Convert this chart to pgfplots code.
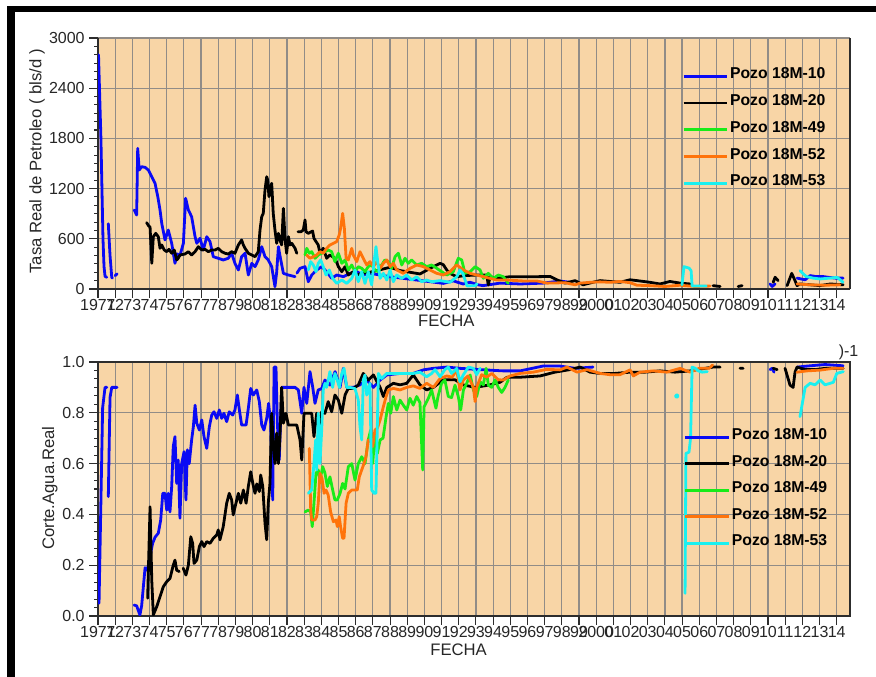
\documentclass[border=0pt]{standalone}
\usepackage{fontspec}
\setmainfont{Liberation Sans}
\usepackage{pgfplots}
\pgfplotsset{compat=1.18}
\definecolor{bg}{RGB}{248,213,166}
\definecolor{gridc}{RGB}{145,140,135}
\definecolor{axc}{RGB}{45,45,45}
\definecolor{c10}{RGB}{10,10,245}
\definecolor{c20}{RGB}{0,0,0}
\definecolor{c49}{RGB}{25,235,25}
\definecolor{c52}{RGB}{255,115,10}
\definecolor{c53}{RGB}{25,240,240}
\pgfplotsset{
 mystyle/.style={
  scale only axis, width=564pt,
  xmin=1971, xmax=2014.77,
  axis background/.style={fill=bg},
  grid=major, major grid style={draw=gridc, line width=0.9pt},
  xtick pos=bottom, ytick pos=left,
  tick align=outside,
  major tick length=6.5pt, minor tick length=3pt,
  every tick/.style={axc, line width=0.8pt},
  axis line style={axc, line width=1.4pt},
  xtick={1971,...,2014},
  xticklabels={1971,72,73,74,75,76,77,78,79,80,81,82,83,84,85,86,87,88,89,90,91,92,93,94,95,96,97,98,99,2000,01,02,03,04,05,06,07,08,09,10,11,12,13,14},
  minor x tick num=1,
  minor y tick num=5,
  tick label style={font=\fontsize{12}{14}\selectfont, text=black!85},
  /pgf/number format/assume math mode=true,
  /pgf/number format/1000 sep={},
  xticklabel style={inner ysep=1pt},
  unbounded coords=jump,
  every axis plot/.append style={line width=2.1pt, line join=round, line cap=round},
  legend image code/.code={\draw[#1, line width=2.1pt, line cap=butt] (0pt,-1.5pt) -- (32.6pt,-1.5pt);},
  legend cell align=left,
  label style={font=\fontsize{12.5}{15}\selectfont, text=black!85},
  xlabel={FECHA},
 }
}
\begin{document}
\begin{tikzpicture}
\useasboundingbox (0pt,0pt) rectangle (657pt,507.75pt);
% ---------------- top panel ----------------
\begin{axis}[mystyle,
  at={(73.5pt,291pt)}, anchor=south west, height=188.25pt,
  axis x line*=bottom, axis y line*=box,
  ymin=0, ymax=3000, ytick={0,600,...,3000},
  ylabel={Tasa Real de Petroleo ( bls/d )},
  ylabel style={at={(rel axis cs:-0.0811,0.508)}, anchor=center},
  xlabel style={at={(rel axis cs:0.4632,-0.1275)}, anchor=center},
  legend style={at={(rel axis cs:0.7766,0.896)}, anchor=north west, draw=none, fill=none,
    font=\fontsize{11.8}{14}\selectfont\bfseries, row sep=5.2pt, inner sep=0pt,
    nodes={inner sep=1.2pt, text height=9.5pt, text depth=3pt}},
]
\addplot[c10] coordinates {
(1971.03,2800) (1971.17,1800) (1971.29,600) (1971.35,270) (1971.41,150) (1971.51,140) (1971.55,nan)
(1971.60,780) (1971.70,400) (1971.80,140) (1971.84,130) (1971.92,nan)
(1972.00,160) (1972.11,180) (1972.5,nan)
(1973.11,944) (1973.25,884) (1973.31,1681) (1973.40,1422) (1973.54,1462) (1973.74,1454) (1973.93,1422) (1974.13,1342) (1974.32,1263) (1974.48,1103) (1974.61,944) (1974.71,785) (1974.90,586) (1975.09,705) (1975.29,546) (1975.48,307) (1975.60,420) (1975.77,400) (1975.97,546) (1976.10,1084) (1976.26,944) (1976.45,864) (1976.65,625) (1976.75,546) (1976.94,606) (1977.13,466) (1977.33,625) (1977.52,566) (1977.71,386) (1978.00,367) (1978.29,347) (1978.58,367) (1978.78,427) (1978.97,307) (1979.17,227) (1979.36,386) (1979.56,427) (1979.75,167) (1979.95,307) (1980.14,267) (1980.33,347) (1980.53,506) (1980.72,386) (1980.91,347) (1981.11,267) (1981.30,27) (1981.40,200) (1981.50,506) (1981.59,400) (1981.79,187) (1982.08,167) (1982.47,147) (1982.53,nan)
(1982.58,190) (1982.76,247) (1983.05,267) (1983.24,87) (1983.44,167) (1983.73,227) (1984.02,267) (1984.31,207) (1984.60,127) (1984.89,167) (1985.28,147) (1985.67,187) (1986.06,207) (1986.44,167) (1986.83,187) (1987.42,167) (1988.00,147) (1988.77,127) (1989.55,107) (1990.33,87) (1991.10,67) (1991.68,97) (1992.25,60) (1992.66,80) (1993.12,50) (1993.41,40) (1994.40,70) (1995.57,60) (1996.90,70) (1997.89,95) (1998.47,80) (1999,nan)
(2010.12,60) (2010.24,30) (2010.41,60) (2011,nan)
(2011.69,130) (2012.16,110) (2012.45,160) (2012.74,150) (2013.15,150) (2013.50,140) (2013.91,130) (2014.37,130)
};
\addplot[c20] coordinates {
(1973.83,793) (1973.93,760) (1974.03,740) (1974.13,307) (1974.22,625) (1974.36,665) (1974.51,625) (1974.61,486) (1974.71,526) (1974.86,466) (1975.00,446) (1975.13,474) (1975.29,427) (1975.44,466) (1975.58,347) (1975.67,367) (1975.77,406) (1976.06,418) (1976.26,446) (1976.45,406) (1976.65,446) (1976.84,506) (1977.04,466) (1977.23,474) (1977.42,446) (1977.62,466) (1977.81,466) (1978.00,486) (1978.20,446) (1978.39,427) (1978.58,418) (1978.78,446) (1978.97,427) (1979.17,526) (1979.36,586) (1979.46,526) (1979.56,486) (1979.75,427) (1979.95,406) (1980.14,386) (1980.33,446) (1980.43,705) (1980.53,864) (1980.62,904) (1980.72,1183) (1980.82,1342) (1980.88,1302) (1980.95,1103) (1981.05,1223) (1981.11,1263) (1981.20,904) (1981.30,705) (1981.40,546) (1981.50,665) (1981.59,586) (1981.69,526) (1981.79,964) (1981.89,586) (1981.98,427) (1982.08,625) (1982.18,526) (1982.28,546) (1982.47,486) (1982.57,427) (1982.60,nan)
(1982.64,685) (1982.82,685) (1982.95,705) (1983.05,825) (1983.11,685) (1983.24,665) (1983.49,693) (1983.57,606) (1983.69,566) (1983.82,526) (1983.92,427) (1984.11,486) (1984.31,367) (1984.50,406) (1984.80,367) (1984.99,267) (1985.19,207) (1985.38,267) (1985.57,167) (1985.86,207) (1986.06,167) (1986.35,187) (1986.83,200) (1987.42,230) (1988.00,260) (1988.58,220) (1989.16,200) (1989.74,180) (1990.52,267) (1990.91,307) (1991.10,290) (1991.30,227) (1991.49,187) (1991.88,147) (1992.36,160) (1993.04,167) (1993.62,167) (1993.72,48) (1993.82,147) (1994.21,127) (1994.98,147) (1995.76,147) (1996.54,147) (1997.31,150) (1997.70,110) (1998.18,70) (1998.77,100) (1999.23,50) (1999.81,80) (2000.22,100) (2000.80,90) (2001.38,80) (2001.97,110) (2002.37,100) (2003.13,80) (2003.71,60) (2004.29,90) (2004.88,70) (2005.46,60) (2006,nan)
(2006.80,40) (2007.21,30) (2007.5,nan)
(2008.26,30) (2008.49,40) (2009,nan)
(2010.30,80) (2010.41,140) (2010.59,100) (2010.8,nan)
(2011.11,40) (2011.38,187) (2011.57,100) (2011.69,40) (2011.86,60) (2012.45,50) (2013.03,40) (2013.62,60) (2014.37,50)
};
\addplot[c49] coordinates {
(1983.05,406) (1983.15,486) (1983.30,427) (1983.44,446) (1983.63,367) (1983.82,406) (1984.02,427) (1984.21,446) (1984.40,466) (1984.60,446) (1984.79,327) (1984.99,427) (1985.19,307) (1985.38,347) (1985.57,227) (1985.77,287) (1985.96,207) (1986.15,267) (1986.35,247) (1986.54,207) (1986.73,267) (1986.93,287) (1987.12,227) (1987.32,207) (1987.51,287) (1987.70,347) (1987.90,327) (1988.09,247) (1988.29,386) (1988.48,427) (1988.68,287) (1988.87,367) (1989.06,307) (1989.26,347) (1989.55,287) (1989.84,307) (1990.13,267) (1990.42,287) (1990.72,247) (1991.00,207) (1991.30,167) (1991.68,207) (1991.97,367) (1992.17,347) (1992.36,187) (1992.66,207) (1992.95,267) (1993.24,227) (1993.43,127) (1993.72,187) (1994.01,127) (1994.30,167) (1994.59,147) (1994.88,67)
};
\addplot[c52] coordinates {
(1983.15,406) (1983.34,367) (1983.53,386) (1983.73,406) (1983.92,446) (1984.11,427) (1984.31,486) (1984.50,526) (1984.70,546) (1984.89,566) (1985.04,645) (1985.12,725) (1985.24,904) (1985.34,725) (1985.44,367) (1985.57,347) (1985.77,486) (1985.86,406) (1986.06,327) (1986.25,446) (1986.44,367) (1986.64,287) (1986.83,327) (1987.03,267) (1987.22,327) (1987.42,247) (1987.61,307) (1987.81,347) (1988.00,267) (1988.19,307) (1988.39,227) (1988.77,187) (1989.16,247) (1989.55,287) (1989.94,267) (1990.33,227) (1990.72,187) (1991.10,167) (1991.49,207) (1991.88,287) (1992.27,227) (1992.66,187) (1993.04,167) (1993.43,147) (1993.82,127) (1994.21,107) (1994.79,107) (1995.76,96) (1996.54,96) (1997.14,70) (1998.18,75) (1998.77,50) (1999.06,70) (1999.64,80) (2000.22,85) (2000.80,80) (2001.38,90) (2001.97,75) (2002.37,45) (2003.13,40) (2004.00,30) (2004.88,45) (2005.75,30) (2006.62,35) (2007,nan)
(2011.69,60) (2012.45,50) (2013.32,45) (2014.19,50)
};
\addplot[c53] coordinates {
(1983.24,227) (1983.38,327) (1983.53,287) (1983.69,207) (1983.82,307) (1983.96,347) (1984.11,267) (1984.27,167) (1984.46,227) (1984.66,127) (1984.89,67) (1985.19,107) (1985.48,67) (1985.77,127) (1985.96,227) (1986.15,87) (1986.35,207) (1986.54,67) (1986.73,207) (1986.93,48) (1987.07,327) (1987.18,506) (1987.28,327) (1987.42,127) (1987.61,187) (1987.81,107) (1988.00,227) (1988.19,87) (1988.39,167) (1988.68,127) (1988.97,167) (1989.26,107) (1989.55,147) (1989.84,87) (1990.13,107) (1990.42,87) (1990.91,100) (1991.49,80) (1991.90,150) (1992.07,227) (1992.25,180) (1992.48,36) (1992.95,40) (1993.06,60) (1994,nan)
(2004.99,50) (2005.11,267) (2005.40,250) (2005.52,220) (2005.58,36) (2005.99,36) (2006.40,36) (2007,nan)
(2011.86,219) (2012.21,150) (2012.62,130) (2013.03,120) (2013.62,130) (2014.02,140) (2014.37,80)
};
\legend{Pozo 18M-10, Pozo 18M-20, Pozo 18M-49, Pozo 18M-52, Pozo 18M-53}
\end{axis}
% ---------------- bottom panel ----------------
\begin{axis}[mystyle,
  at={(73.5pt,45.75pt)}, anchor=south west, height=190.5pt,
  ymin=0, ymax=1, ytick={0,0.2,0.4,0.6,0.8,1.0},
  yticklabel style={/pgf/number format/.cd, fixed, fixed zerofill, precision=1},
  ylabel={Corte.Agua.Real},
  ylabel style={at={(rel axis cs:-0.0642,0.503)}, anchor=center},
  xlabel style={at={(rel axis cs:0.4795,-0.1319)}, anchor=center},
  legend style={at={(rel axis cs:0.779,0.752)}, anchor=north west, draw=none, fill=none,
    font=\fontsize{11.8}{14}\selectfont\bfseries, row sep=5.0pt, inner sep=0pt,
    nodes={inner sep=1.2pt, text height=9.5pt, text depth=3pt}},
]
\addplot[c10] coordinates {
(1971.06,0.05) (1971.27,0.82) (1971.41,0.90) (1971.51,0.90) (1971.55,nan)
(1971.60,0.47) (1971.70,0.86) (1971.80,0.90) (1972.11,0.90) (1972.5,nan)
(1973.10,0.043) (1973.25,0.04) (1973.44,0.004) (1973.54,0.04) (1973.74,0.19) (1973.87,0.18) (1974.18,0.286) (1974.32,0.31) (1974.51,0.326) (1974.65,0.378) (1974.77,0.483) (1974.90,0.483) (1975.00,0.417) (1975.09,0.483) (1975.19,0.41) (1975.29,0.51) (1975.38,0.667) (1975.48,0.706) (1975.58,0.522) (1975.67,0.614) (1975.77,0.385) (1975.87,0.60) (1976.01,0.647) (1976.12,0.457) (1976.20,0.654) (1976.31,0.60) (1976.45,0.693) (1976.55,0.745) (1976.65,0.83) (1976.75,0.759) (1976.90,0.732) (1977.04,0.772) (1977.17,0.706) (1977.33,0.66) (1977.48,0.745) (1977.62,0.791) (1977.75,0.804) (1977.91,0.778) (1978.06,0.811) (1978.20,0.778) (1978.33,0.798) (1978.49,0.765) (1978.64,0.804) (1978.84,0.791) (1978.97,0.811) (1979.11,0.87) (1979.23,0.811) (1979.36,0.752) (1979.62,0.752) (1979.75,0.818) (1979.89,0.896) (1980.04,0.87) (1980.24,0.89) (1980.39,0.844) (1980.53,0.752) (1980.66,0.732) (1980.82,0.778) (1980.93,0.837) (1981.05,0.759) (1981.17,0.457) (1981.25,0.98) (1981.36,0.98) (1981.44,0.759) (1981.55,0.614) (1981.69,0.90) (1981.89,0.90) (1982.18,0.90) (1982.47,0.90) (1982.66,0.89) (1982.86,0.798) (1982.99,0.90) (1983.15,0.837) (1983.34,0.962) (1983.50,0.90) (1983.63,0.837) (1983.82,0.89) (1984.02,0.895) (1984.21,0.929) (1984.50,0.909) (1984.80,0.962) (1985.09,0.90) (1985.28,0.975) (1985.48,0.90) (1985.86,0.90) (1986.25,0.91) (1986.64,0.929) (1987.03,0.90) (1987.42,0.929) (1987.81,0.949) (1988.58,0.955) (1989.35,0.955) (1989.94,0.969) (1990.52,0.975) (1991.30,0.98) (1992.07,0.975) (1993.24,0.97) (1994.58,0.965) (1995.57,0.965) (1996.90,0.984) (1997.89,0.984) (1998.77,0.975) (1999.81,0.98) (2000.5,nan)
(2010.12,0.97) (2010.24,0.975) (2010.35,0.96) (2010.8,nan)
(2011.69,0.98) (2012.45,0.985) (2013.32,0.99) (2014.37,0.985)
};
\addplot[c20] coordinates {
(1973.89,0.07) (1974.03,0.43) (1974.13,0.14) (1974.22,0.004) (1974.42,0.037) (1974.61,0.076) (1974.80,0.115) (1975.00,0.135) (1975.19,0.148) (1975.38,0.20) (1975.48,0.22) (1975.58,0.18) (1975.73,0.175) (1975.85,nan)
(1975.96,0.188) (1976.12,0.161) (1976.26,0.20) (1976.40,0.312) (1976.51,0.286) (1976.59,0.207) (1976.75,0.22) (1976.90,0.273) (1977.04,0.293) (1977.17,0.273) (1977.33,0.293) (1977.52,0.286) (1977.71,0.306) (1977.91,0.319) (1978.00,0.339) (1978.10,0.30) (1978.29,0.352) (1978.49,0.444) (1978.64,0.483) (1978.78,0.457) (1978.87,0.398) (1979.03,0.444) (1979.17,0.483) (1979.31,0.444) (1979.46,0.496) (1979.62,0.444) (1979.75,0.51) (1979.89,0.568) (1980.01,0.522) (1980.14,0.483) (1980.24,0.52) (1980.39,0.49) (1980.47,0.555) (1980.59,0.51) (1980.72,0.365) (1980.82,0.30) (1980.91,0.444) (1981.01,0.522) (1981.11,0.798) (1981.20,0.68) (1981.30,0.60) (1981.40,0.72) (1981.50,0.60) (1981.59,0.706) (1981.69,0.90) (1981.79,0.759) (1981.94,0.798) (1982.08,0.752) (1982.57,0.752) (1982.76,0.693) (1982.86,0.614) (1982.99,0.798) (1983.44,0.798) (1983.57,0.706) (1983.73,0.798) (1983.88,0.745) (1984.02,0.804) (1984.21,0.798) (1984.40,0.844) (1984.60,0.804) (1984.79,0.87) (1984.99,0.85) (1985.19,0.798) (1985.38,0.87) (1985.57,0.896) (1985.86,0.896) (1986.15,0.909) (1986.44,0.955) (1986.73,0.929) (1987.03,0.949) (1987.42,0.90) (1987.61,0.864) (1987.81,0.90) (1988.19,0.916) (1988.58,0.91) (1988.97,0.916) (1989.35,0.949) (1989.74,0.91) (1990.13,0.89) (1990.52,0.90) (1991.10,0.93) (1991.78,0.93) (1992.25,0.91) (1992.95,0.90) (1993.82,0.91) (1994.40,0.92) (1994.81,0.94) (1995.57,0.94) (1996.73,0.945) (1997.60,0.96) (1998.47,0.97) (1999.06,0.98) (1999.64,0.96) (2000.22,0.955) (2001.09,0.955) (2001.97,0.96) (2002.84,0.96) (2003.71,0.965) (2004.58,0.96) (2005.46,0.965) (2006.33,0.975) (2006.80,0.98) (2007.21,0.98) (2007.6,nan)
(2008.37,0.975) (2008.55,0.975) (2009,nan)
(2010.30,0.975) (2010.53,0.97) (2010.8,nan)
(2010.99,0.975) (2011.28,0.909) (2011.46,0.90) (2011.57,0.96) (2011.69,0.98) (2012.16,0.97) (2012.74,0.97) (2013.32,0.975) (2014.37,0.975)
};
\addplot[c49] coordinates {
(1983.05,0.41) (1983.24,0.417) (1983.38,0.41) (1983.47,0.352) (1983.57,0.444) (1983.69,0.562) (1983.82,0.575) (1983.92,0.535) (1984.08,0.588) (1984.21,0.562) (1984.35,0.51) (1984.50,0.548) (1984.66,0.496) (1984.79,0.457) (1984.93,0.457) (1985.09,0.483) (1985.24,0.522) (1985.38,0.50) (1985.57,0.588) (1985.77,0.60) (1985.96,0.535) (1986.15,0.60) (1986.35,0.627) (1986.54,0.60) (1986.73,0.693) (1986.87,0.732) (1986.99,0.60) (1987.12,0.72) (1987.26,0.64) (1987.42,0.693) (1987.59,0.70) (1987.77,0.785) (1987.90,0.837) (1988.04,0.798) (1988.19,0.864) (1988.39,0.811) (1988.58,0.85) (1988.77,0.83) (1988.97,0.811) (1989.16,0.857) (1989.35,0.83) (1989.55,0.864) (1989.74,0.84) (1989.90,0.575) (1989.98,0.824) (1990.23,0.857) (1990.42,0.89) (1990.67,0.818) (1990.79,0.864) (1991.00,0.916) (1991.19,0.929) (1991.39,0.864) (1991.58,0.86) (1991.78,0.909) (1991.97,0.864) (1992.11,0.811) (1992.27,0.89) (1992.46,0.916) (1992.66,0.949) (1992.85,0.89) (1993.04,0.864) (1993.24,0.922) (1993.43,0.91) (1993.59,0.975) (1993.72,0.909) (1993.92,0.90) (1994.11,0.93) (1994.30,0.90) (1994.50,0.88) (1994.69,0.90) (1994.88,0.929)
};
\addplot[c52] coordinates {
(1983.30,0.66) (1983.38,0.417) (1983.44,0.378) (1983.63,0.378) (1983.73,0.391) (1983.82,0.444) (1983.92,0.562) (1984.04,0.542) (1984.16,0.483) (1984.27,0.496) (1984.40,0.476) (1984.54,0.41) (1984.70,0.371) (1984.85,0.378) (1984.93,0.352) (1985.04,0.391) (1985.12,0.352) (1985.24,0.306) (1985.32,0.306) (1985.44,0.444) (1985.57,0.483) (1985.77,0.496) (1986.09,0.496) (1986.21,0.548) (1986.35,0.575) (1986.48,0.60) (1986.60,0.627) (1986.73,0.693) (1986.87,0.693) (1986.99,0.667) (1987.12,0.732) (1987.26,0.74) (1987.42,0.772) (1987.61,0.824) (1987.77,0.864) (1987.90,0.89) (1988.19,0.896) (1988.58,0.89) (1988.97,0.90) (1989.35,0.906) (1989.74,0.896) (1990.13,0.916) (1990.52,0.90) (1990.91,0.935) (1991.30,0.945) (1991.61,0.94) (1991.88,0.969) (1992.07,0.89) (1992.27,0.93) (1992.54,0.945) (1992.85,0.90) (1992.95,0.844) (1993.04,0.90) (1993.33,0.95) (1993.62,0.94) (1993.92,0.955) (1994.30,0.93) (1994.59,0.929) (1994.98,0.945) (1995.57,0.955) (1996.34,0.96) (1997.12,0.971) (1997.89,0.969) (1998.30,0.98) (1998.88,0.96) (1999.47,0.97) (2000.22,0.955) (2000.80,0.95) (2001.38,0.95) (2001.97,0.969) (2002.16,0.945) (2002.55,0.96) (2003.31,0.965) (2004.11,0.96) (2004.88,0.975) (2005.46,0.96) (2005.99,0.975) (2006.57,0.975) (2006.77,0.988) (2007.2,nan)
(2011.69,0.96) (2012.27,0.965) (2013.03,0.968) (2013.79,0.975) (2014.37,0.975)
};
\addplot[c53] coordinates {
(1983.24,0.483) (1983.44,0.496) (1983.57,0.60) (1983.67,0.693) (1983.73,0.575) (1983.82,0.798) (1983.92,0.60) (1984.02,0.732) (1984.11,0.89) (1984.21,0.916) (1984.31,0.90) (1984.40,0.929) (1984.50,0.962) (1984.66,0.90) (1984.79,0.955) (1984.93,0.929) (1985.05,0.90) (1985.19,0.955) (1985.32,0.975) (1985.48,0.90) (1985.67,0.90) (1985.96,0.895) (1986.15,0.85) (1986.25,0.745) (1986.35,0.693) (1986.44,0.929) (1986.54,0.949) (1986.64,0.87) (1986.83,0.916) (1986.93,0.496) (1987.07,0.483) (1987.18,0.483) (1987.32,0.955) (1987.51,0.935) (1987.81,0.955) (1988.19,0.955) (1988.58,0.955) (1988.97,0.955) (1989.35,0.955) (1989.74,0.96) (1990.13,0.942) (1990.42,0.955) (1990.62,0.97) (1990.91,0.942) (1991.19,0.97) (1991.39,0.98) (1991.58,0.955) (1991.88,0.975) (1992.07,0.922) (1992.27,0.95) (1992.56,0.98) (1992.85,0.975) (1993.04,0.95) (1993.24,0.975) (1994,nan)
(2005.17,0.089) (2005.22,0.64) (2005.40,0.645) (2005.49,0.70) (2005.58,0.98) (2005.77,0.975) (2005.94,0.965) (2006.16,0.96) (2006.46,0.962) (2007,nan)
(2011.86,0.785) (2012.16,0.90) (2012.45,0.916) (2012.74,0.91) (2013.03,0.929) (2013.32,0.91) (2013.80,0.92) (2014.00,0.955) (2014.38,0.962)
};
\addplot[c53, only marks, mark=*, mark size=1pt, forget plot] coordinates {(2004.69,0.866)};
\legend{Pozo 18M-10, Pozo 18M-20, Pozo 18M-49, Pozo 18M-52, Pozo 18M-53}
\end{axis}
\node[font=\fontsize{12}{14}\selectfont, text=black!85] at (636.4pt,243.75pt) {)-1};
% frame
\fill[black] (5.25pt,498.4pt) rectangle (657pt,503.25pt);
\fill[black] (5.25pt,0pt) rectangle (11.25pt,503.25pt);
\end{tikzpicture}
\end{document}
